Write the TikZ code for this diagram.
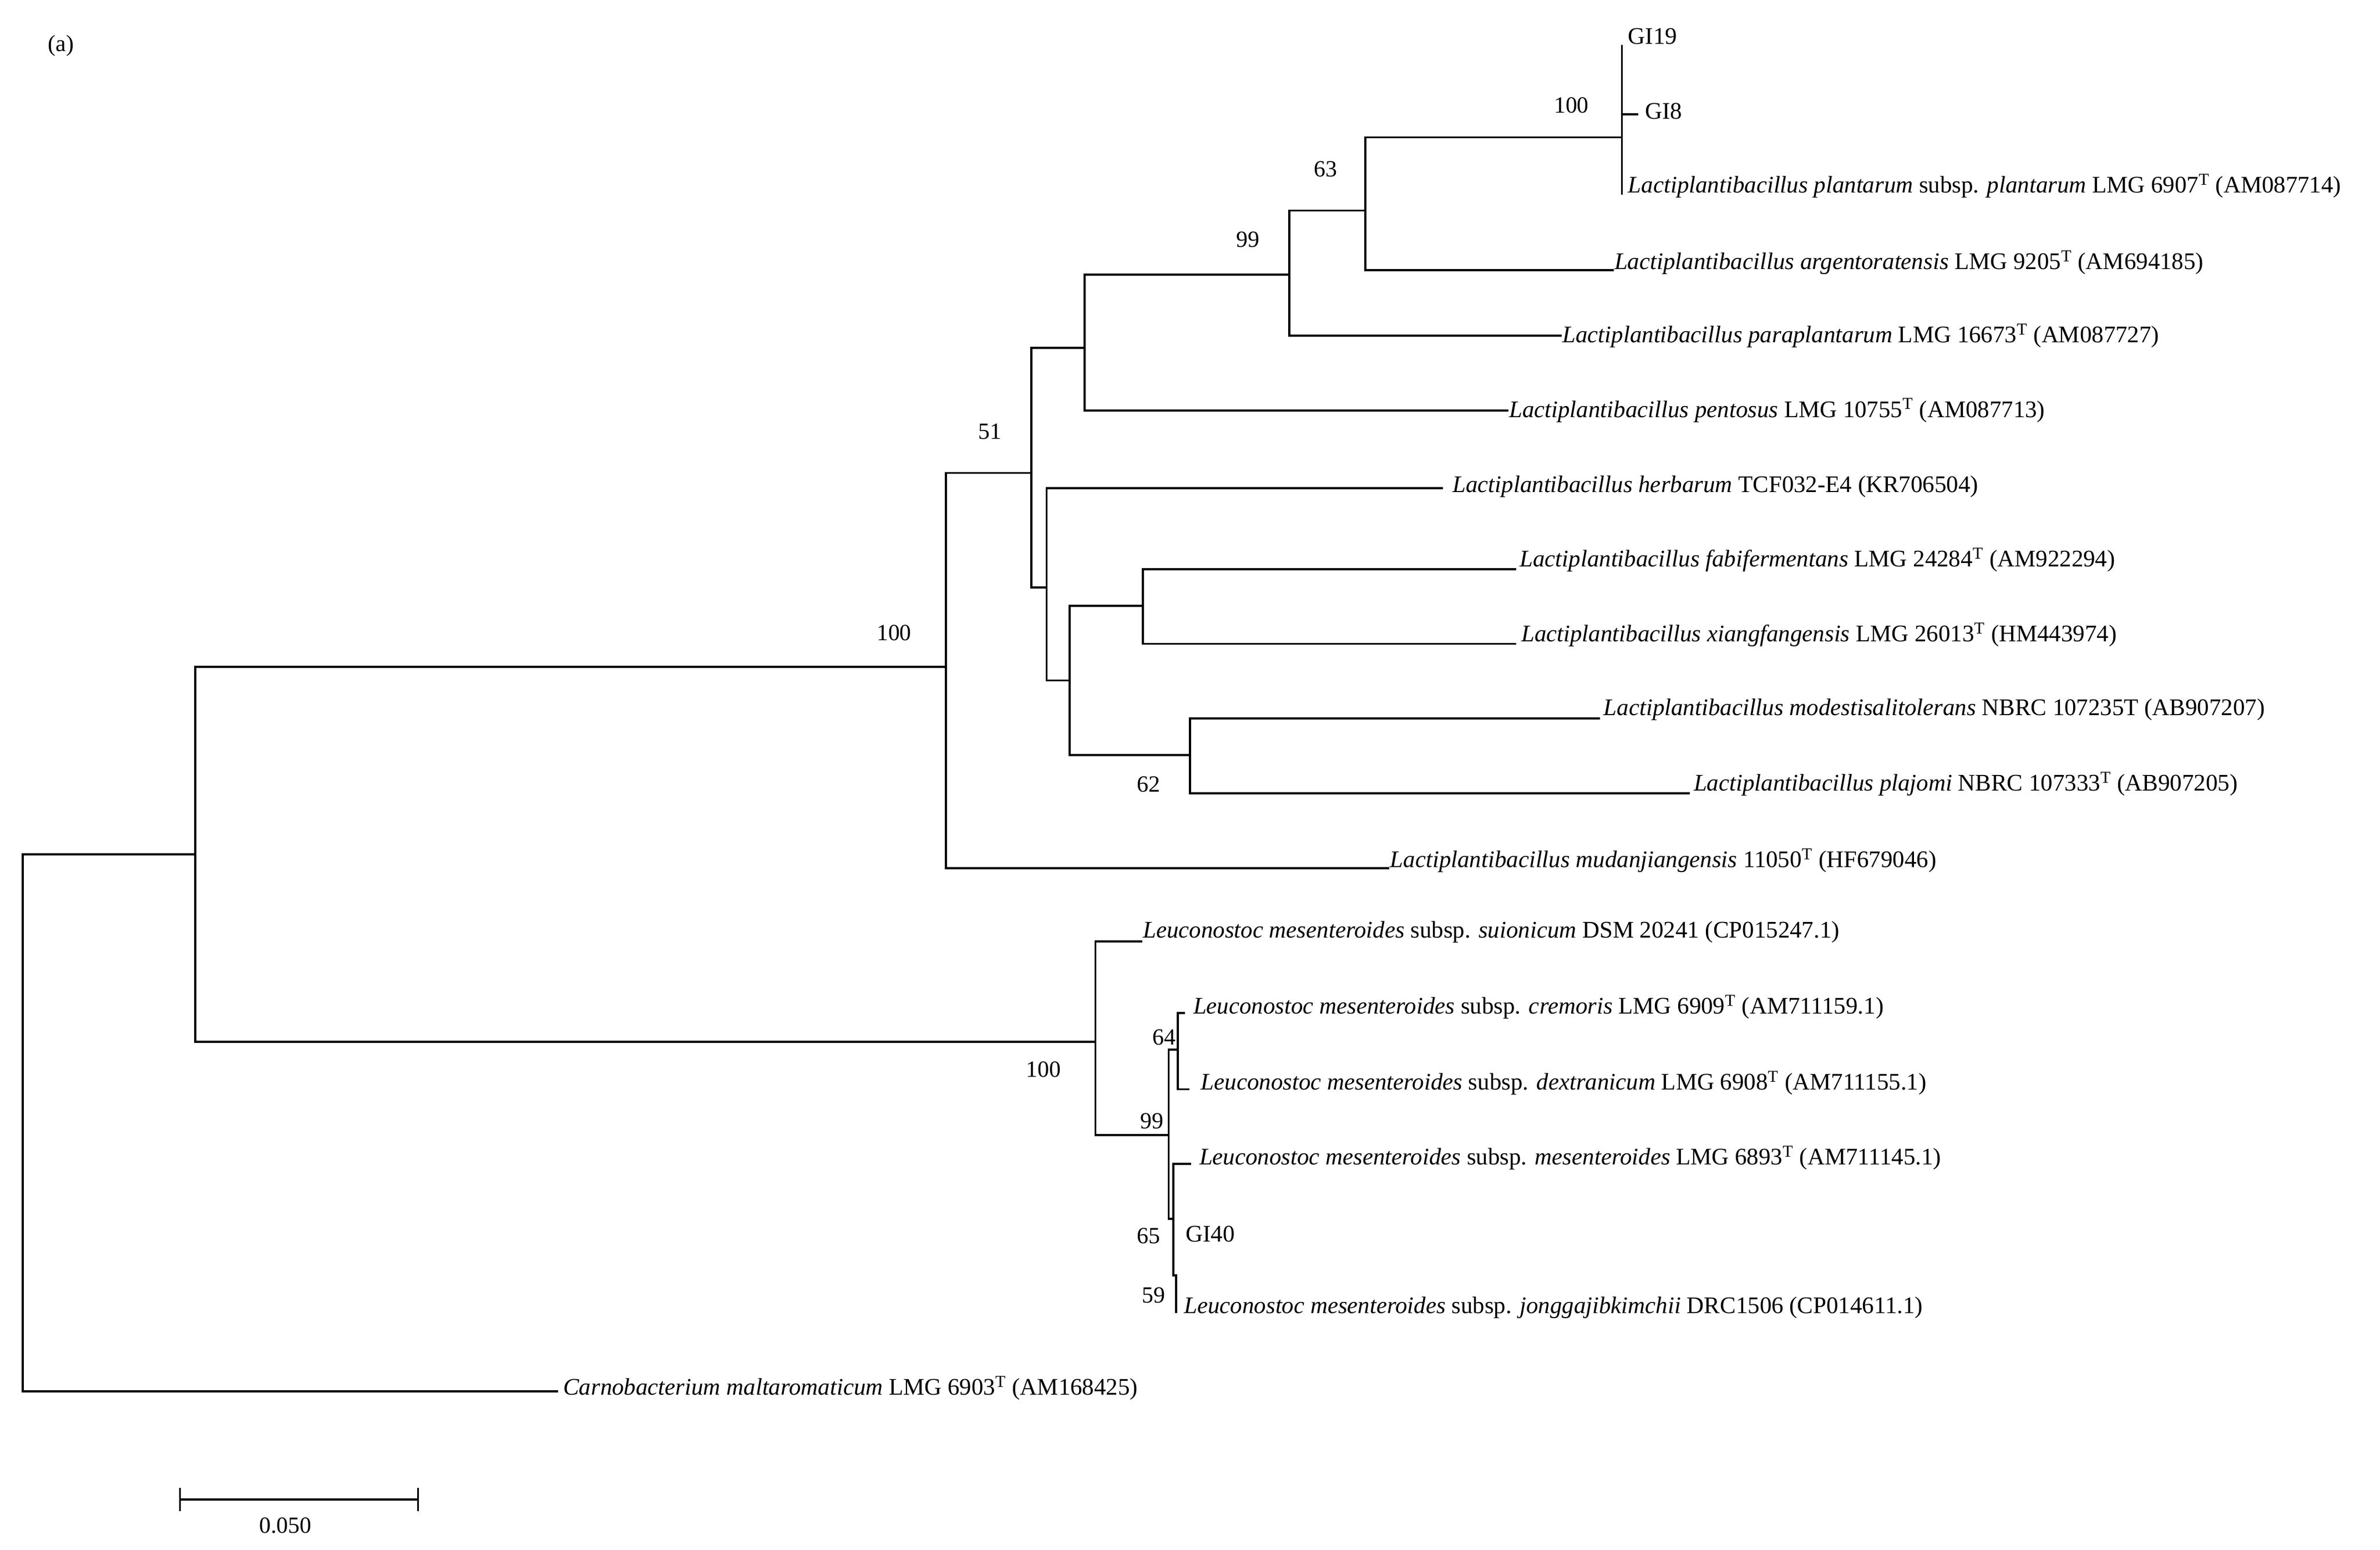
\documentclass[tikz,border=0pt]{standalone}
\usepackage{fontspec}
\setmainfont{Liberation Serif}
\begin{document}
\begin{tikzpicture}[x=1pt,y=-1pt,
  br/.style={line width=1.3pt,line cap=rect},
  lf/.style={anchor=west,inner sep=1pt,font=\fontsize{15.6}{17}\selectfont},
  bs/.style={anchor=center,inner sep=0pt,font=\fontsize{15.2}{17}\selectfont}]
\useasboundingbox (0,0) rectangle (1560,1016);
\newcommand{\T}{\textsuperscript{T}}
% internal nodes
\coordinate (R) at (15,560);
\coordinate (A) at (128,560);
\coordinate (B) at (620,437);
\coordinate (C) at (676,310);
\coordinate (D) at (711,228);
\coordinate (E) at (845,180);
\coordinate (F) at (895,138);
\coordinate (G) at (1063,90);
\coordinate (H) at (686,385);
\coordinate (I) at (701,446);
\coordinate (J) at (749,397);
\coordinate (K) at (780,495);
\coordinate (L) at (718,683);
\coordinate (M) at (766,744);
\coordinate (N) at (772,688);
\coordinate (O) at (769,799);
\coordinate (P) at (771,836);
% leaves
\node[lf] (carno) at (368,910) {\textit{Carnobacterium maltaromaticum} LMG 6903\T{} (AM168425)};
\node[lf] (mud) at (910,564) {\textit{Lactiplantibacillus mudanjiangensis} 11050\T{} (HF679046)};
\node[lf] (pent) at (988,269) {\textit{Lactiplantibacillus pentosus} LMG 10755\T{} (AM087713)};
\node[lf] (para) at (1023,220) {\textit{Lactiplantibacillus paraplantarum} LMG 16673\T{} (AM087727)};
\node[lf] (arg) at (1057,172) {\textit{Lactiplantibacillus argentoratensis} LMG 9205\T{} (AM694185)};
\node[lf] (gi19) at (1066,24) {GI19};
\node[lf] (gi8) at (1077,73) {GI8};
\node[lf] (plan) at (1066,122) {\textit{Lactiplantibacillus plantarum} subsp. \textit{plantarum} LMG 6907\T{} (AM087714)};
\node[lf] (herb) at (951,319) {\textit{Lactiplantibacillus herbarum} TCF032-E4 (KR706504)};
\node[lf] (fabi) at (995,367) {\textit{Lactiplantibacillus fabifermentans} LMG 24284\T{} (AM922294)};
\node[lf] (xian) at (996,416) {\textit{Lactiplantibacillus xiangfangensis} LMG 26013\T{} (HM443974)};
\node[lf] (mode) at (1050,465) {\textit{Lactiplantibacillus modestisalitolerans} NBRC 107235T (AB907207)};
\node[lf] (plaj) at (1109,514) {\textit{Lactiplantibacillus plajomi} NBRC 107333\T{} (AB907205)};
\node[lf] (suio) at (748,611) {\textit{Leuconostoc mesenteroides} subsp. \textit{suionicum} DSM 20241 (CP015247.1)};
\node[lf] (crem) at (781,660) {\textit{Leuconostoc mesenteroides} subsp. \textit{cremoris} LMG 6909\T{} (AM711159.1)};
\node[lf] (dext) at (786,710) {\textit{Leuconostoc mesenteroides} subsp. \textit{dextranicum} LMG 6908\T{} (AM711155.1)};
\node[lf] (mese) at (785,759) {\textit{Leuconostoc mesenteroides} subsp. \textit{mesenteroides} LMG 6893\T{} (AM711145.1)};
\node[lf] (gi40) at (776,809) {GI40};
\node[lf] (jong) at (775,857) {\textit{Leuconostoc mesenteroides} subsp. \textit{jonggajibkimchii} DRC1506 (CP014611.1)};
% branches
\draw[br] (R) -- (A);
\draw[br] (A) |- (B);
\draw[br] (A) |- (L);
\draw[br] (R) |- (365,912);
\draw[br] (B) |- (C);
\draw[br] (B) |- (910,569);
\draw[br] (C) |- (D);
\draw[br] (C) |- (H);
\draw[br] (D) |- (E);
\draw[br] (D) |- (988,269);
\draw[br] (E) |- (F);
\draw[br] (E) |- (1023,220);
\draw[br] (F) |- (G);
\draw[br] (F) |- (1057,177);
\draw[br] (1063,30) -- (1063,127);
\draw[br] (1063,75) -- (1073,75);
\draw[br] (H) |- (945,320);
\draw[br] (H) |- (I);
\draw[br] (I) |- (J);
\draw[br] (I) |- (K);
\draw[br] (J) |- (993,373);
\draw[br] (J) |- (993,422);
\draw[br] (K) |- (1048,471);
\draw[br] (K) |- (1107,520);
\draw[br] (L) |- (748,617);
\draw[br] (L) |- (M);
\draw[br] (M) |- (N);
\draw[br] (M) |- (O);
\draw[br] (N) |- (776,664);
\draw[br] (N) |- (779,714);
\draw[br] (O) |- (780,763);
\draw[br] (O) |- (P);
\draw[br] (P) -- (771,860);
% bootstrap
\node[bs] (b1) at (586,415) {100};
\node[bs] (b2) at (649,283) {51};
\node[bs] (b3) at (818,157) {99};
\node[bs] (b4) at (869,111) {63};
\node[bs] (b5) at (1030,69) {100};
\node[bs] (b6) at (753,514) {62};
\node[bs] (b7) at (684,701) {100};
\node[bs] (b8) at (763,680) {64};
\node[bs] (b9) at (755,735) {99};
\node[bs] (b10) at (753,810) {65};
\node[bs] (b11) at (756,849) {59};
\node[bs] (lab) at (40,30) {(a)};
% scale bar
\draw[br] (118,983) -- (274,983);
\draw[br] (118,976) -- (118,990);
\draw[br] (274,976) -- (274,990);
\node[bs] (sc) at (187,1000) {0.050};
\end{tikzpicture}
\end{document}
